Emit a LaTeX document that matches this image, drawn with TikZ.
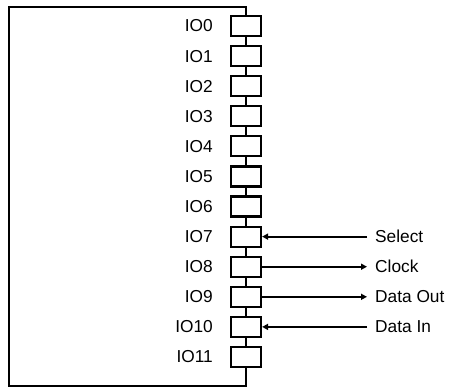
\documentclass[tikz,border=0pt]{standalone}
\usepackage{fontspec}
\setmainfont{Liberation Sans}
\usetikzlibrary{arrows.meta}
\begin{document}
\begin{tikzpicture}[x=1pt,y=-1pt,
  pin/.style={draw,line width=2.2pt,minimum width=30pt,minimum height=20pt,inner sep=0pt},
  lbl/.style={font=\fontsize{17.3}{19}\selectfont,inner sep=0pt},
  wire/.style={line width=2.2pt},
  sig/.style={line width=2pt,-{Triangle[length=6pt,width=6pt]}}]
\useasboundingbox (0,0) rectangle (451,388);
\foreach \i in {0,...,11}{
  \node[pin] (b\i) at (246,{26+30.09*\i}) {};
  \node[lbl,anchor=east] (l\i) at (213,{26+30.09*\i}) {IO\i};
}
\coordinate (tr) at (246,7);
\coordinate (tl) at (9,7);
\coordinate (bl) at (9,386);
\coordinate (br) at (246,386);
\draw[wire,line join=miter] (b0.north) -- (tr) -- (tl) -- (bl) -- (br) -- (b11.south);
\foreach \i [evaluate=\i as \j using int(\i+1)] in {0,...,10}{
  \draw[wire] (b\i.south) -- (b\j.north);
}
\foreach \i/\t in {7/Select,8/Clock,9/Data Out,10/Data In}{
  \coordinate (e\i) at (367,{26+30.09*\i});
  \node[lbl,anchor=west] (s\i) at (375,{26+30.09*\i}) {\t};
}
\draw[sig] (e7) -- (b7.east);
\draw[sig] (b8.east) -- (e8);
\draw[sig] (b9.east) -- (e9);
\draw[sig] (e10) -- (b10.east);
\end{tikzpicture}
\end{document}
